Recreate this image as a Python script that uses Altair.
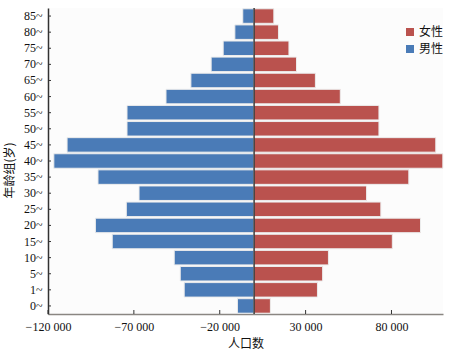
import altair as alt
import pandas as pd

ages = ["0~", "1~", "5~", "10~", "15~", "20~", "25~", "30~", "35~", "40~",
        "45~", "50~", "55~", "60~", "65~", "70~", "75~", "80~", "85~"]
male = [9700, 40700, 43000, 46500, 82600, 92400, 74400, 67000, 90900, 116600,
        108900, 74000, 74000, 51300, 36800, 25000, 18000, 11200, 6600]
female = [9500, 36900, 39900, 43300, 80500, 96900, 73800, 65500, 90100, 109900,
          105800, 72700, 72700, 50200, 35700, 24700, 20300, 14200, 11500]
tick_values = [-120000, -70000, -20000, 30000, 80000]

rows = []
for a, m, f in zip(ages, male, female):
    rows.append({"age": a, "sex": "男性", "value": -m})
    rows.append({"age": a, "sex": "女性", "value": f})
df = pd.DataFrame(rows)

order = list(reversed(ages))
serif = "Liberation Serif"
cjk = "Noto Sans CJK SC"

xscale = alt.Scale(domain=[-120000, 110000], nice=False, zero=False)
yscale = alt.Scale(domain=order, paddingInner=0.1, paddingOuter=0.05)

bars = alt.Chart(df).mark_bar(stroke="#ececec", strokeWidth=1).encode(
    x=alt.X("value:Q", stack=None, scale=xscale,
            axis=alt.Axis(values=tick_values, title="人口数",
                          labelExpr="replace(format(datum.value, ','), ',', ' ')",
                          labelFont=serif, labelFontSize=12, labelColor="#111",
                          labelFlush=False, labelOverlap=False,
                          titleFont=cjk, titleFontSize=12, titleFontWeight="normal",
                          titleColor="#111", titlePadding=6,
                          grid=False, ticks=False,
                          domainColor="#8a8682", domainWidth=1.5,
                          labelPadding=7)),
    y=alt.Y("age:N", sort=order, scale=yscale,
            axis=alt.Axis(title="年龄组(岁)", labelFont=serif, labelFontSize=12,
                          labelColor="#111", titleFont=cjk, titleFontSize=12,
                          titleFontWeight="normal", titleColor="#111",
                          titleX=-32, titleY=162,
                          grid=False, ticks=False,
                          domainColor="#333", domainWidth=1.5,
                          labelPadding=6)),
    color=alt.Color("sex:N",
                    scale=alt.Scale(domain=["女性", "男性"],
                                    range=["#BA524E", "#4A7BB7"]),
                    legend=alt.Legend(title=None, orient="none", legendX=356,
                                      legendY=18, symbolType="square",
                                      symbolSize=64, symbolStrokeWidth=0,
                                      labelFont=cjk, labelFontSize=12,
                                      labelColor="#111", rowPadding=5,
                                      labelOffset=3)),
)

zero = alt.Chart(pd.DataFrame({"x": [0]})).mark_rule(color="#111", strokeWidth=1.2).encode(
    x=alt.X("x:Q", scale=xscale)
)

xticks = alt.Chart(pd.DataFrame({"t": tick_values})).mark_rule(color="#333", strokeWidth=1).encode(
    x=alt.X("t:Q", scale=xscale), y=alt.value(306), y2=alt.value(302)
)

yticks = alt.Chart(pd.DataFrame({"age": ages})).mark_rule(color="#333", strokeWidth=1).encode(
    y=alt.Y("age:N", sort=order, scale=yscale), x=alt.value(0), x2=alt.value(3)
)

chart = alt.layer(bars, zero, xticks, yticks).properties(
    width=395, height=306,
    autosize=alt.AutoSizeParams(type="none"),
    padding={"left": 48, "top": 8, "right": 11, "bottom": 39},
    background="white",
).configure_view(stroke=None, fill="#fcfcfc")

chart.save("out.html", embed_options={"renderer": "svg", "actions": False})
